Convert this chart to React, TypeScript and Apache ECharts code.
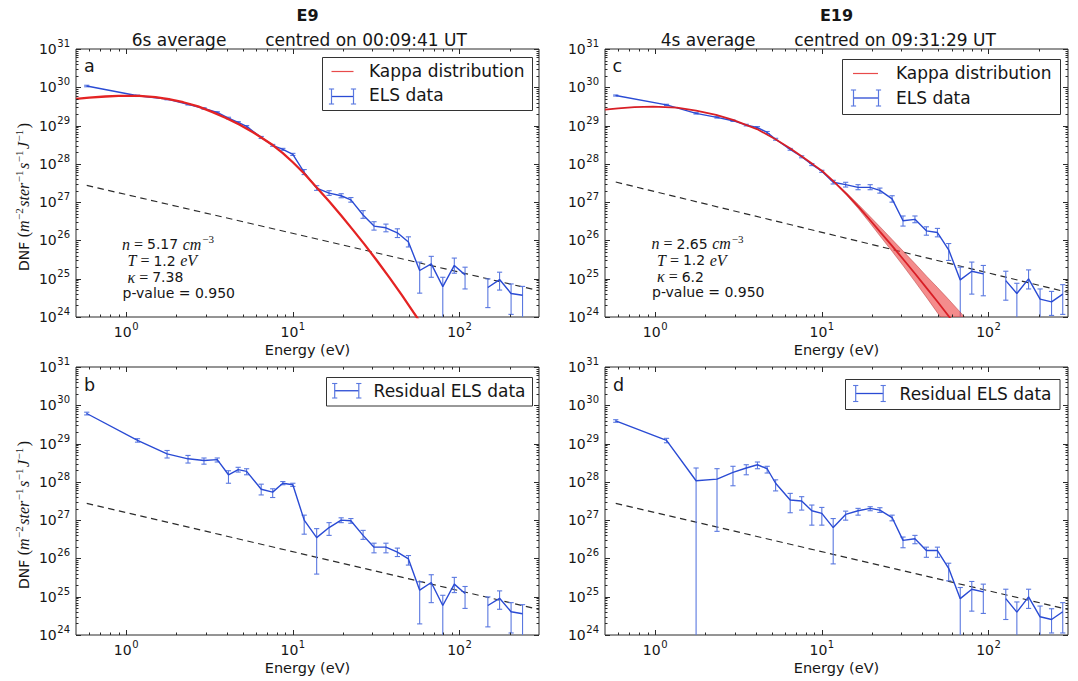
import React, { useEffect, useRef } from 'react';
import * as echarts from 'echarts';

// ---------------- data ----------------
// ELS energy bins (eV)
const ENERGY = [0.58, 1.17, 1.76, 2.35, 2.93, 3.52, 4.11, 4.70, 5.28, 6.46, 7.57, 8.71, 10.0, 11.7, 13.9, 16.5, 19.5, 22.3, 26.4, 30.7, 36.2, 42.4, 49.4, 57.7, 67.7, 79.4, 93.1, 108, 127, 148, 174, 204, 239, 279];

// panel a : ELS data (E9)
const ELS_A = [1.08e30, 6.0e29, 4.9e29, 3.6e29, 2.8e29, 2.2e29, 1.57e29, 1.21e29, 9.5e28, 4.9e28, 3.05e28, 2.4e28, 1.77e28, 6.0e27, 2.33e27, 1.72e27, 1.47e27, 1.15e27, 4.6e26, 2.37e26, 2.14e26, 1.58e26, 9.1e25, 1.64e25, 2.45e25, 6.2e24, 2.22e25, 1.26e25, null, 5.9e24, 9.5e24, 4.1e24, 3.7e24, null];
const ELS_A_LO = [1.03e30, 5.75e29, 4.7e29, 3.45e29, 2.67e29, 2.1e29, 1.49e29, 1.15e29, 9.0e28, 4.6e28, 2.88e28, 2.26e28, 1.66e28, 5.25e27, 2.03e27, 1.5e27, 1.3e27, 1.0e27, 3.78e26, 1.86e26, 1.68e26, 1.19e26, 6.75e25, 4.2e24, 1.09e25, 0, 1.39e25, 5.4e24, null, 1.76e24, 5.05e24, 1.17e24, 0, null];
const ELS_A_HI = [1.13e30, 6.25e29, 5.1e29, 3.75e29, 2.93e29, 2.3e29, 1.65e29, 1.27e29, 1.0e29, 5.2e28, 3.22e28, 2.54e28, 1.88e28, 7.1e27, 2.69e27, 1.99e27, 1.66e27, 1.32e27, 6.0e26, 3.08e26, 2.67e26, 2.01e26, 1.24e26, 2.72e25, 3.84e25, 1.09e25, 3.46e25, 2.0e25, null, 9.9e24, 1.48e25, 7.3e24, 6.3e24, null];

// panel b : residual ELS data (E9)
const RES_B = [6.1e29, 1.21e29, 5.4e28, 4.0e28, 3.6e28, 3.8e28, 1.53e28, 2.08e28, 1.88e28, 6.4e27, 5.4e27, 9.2e27, 8.4e27, 1.0e27, 3.5e26, 6.4e26, 1.0e27, 9.6e26, 4.0e26, 1.97e26, 1.97e26, 1.46e26, 9.7e25, 1.48e25, 2.35e25, 5.9e24, 2.13e25, 1.21e25, null, 5.9e24, 9.1e24, 4.05e24, 3.6e24, null];
const RES_B_LO = [5.6e29, 1.09e29, 4.2e28, 3.1e28, 2.9e28, 3.3e28, 9.2e27, 1.8e28, 1.53e28, 4.55e27, 3.9e27, 8.4e27, 7.6e27, 4.3e26, 3.9e25, 4.0e26, 8.6e26, 8.3e26, 3.15e26, 1.4e26, 1.4e26, 1.12e26, 6.7e25, 1.95e24, 7.0e24, 0, 1.28e25, 4.95e24, null, 1.63e24, 4.7e24, 1.13e24, 0, null];
const RES_B_HI = [6.6e29, 1.34e29, 6.6e28, 4.9e28, 4.2e28, 4.2e28, 1.95e28, 2.4e28, 2.2e28, 8.7e27, 6.6e27, 1.02e28, 9.2e27, 1.35e27, 6.0e26, 8.6e26, 1.15e27, 1.1e27, 5.4e26, 2.5e26, 2.5e26, 1.86e26, 1.19e26, 2.45e25, 3.75e25, 1.09e25, 3.2e25, 1.85e25, null, 9.9e24, 1.42e25, 7.0e24, 6.2e24, null];

// panel c : ELS data (E19)
const ELS_C = [6.1e29, 3.47e29, 2.09e29, 1.64e29, 1.34e29, 1.03e29, 8.9e28, 6.6e28, 4.4e28, 2.4e28, 1.53e28, 9.6e27, 6.4e27, 3.3e27, 2.86e27, 2.43e27, 2.43e27, 2.03e27, 1.22e27, 3.27e26, 3.55e26, 1.78e26, 1.61e26, 5.7e25, 9.3e24, 1.57e25, 1.34e25, null, 8.9e24, 4.1e24, 9.9e24, 2.92e24, 2.49e24, 3.96e24];
const ELS_C_LO = [5.9e29, 3.35e29, 2.0e29, 1.57e29, 1.28e29, 9.8e28, 8.4e28, 6.2e28, 4.15e28, 2.27e28, 1.44e28, 9.0e27, 6.0e27, 2.98e27, 2.48e27, 2.11e27, 2.11e27, 1.72e27, 1.0e27, 2.37e26, 2.9e26, 1.37e26, 1.24e26, 3.0e25, 0, 3.96e24, 3.58e24, null, 2.75e24, 0, 5.4e24, 0, 1.1e24, 1.17e24];
const ELS_C_HI = [6.3e29, 3.6e29, 2.18e29, 1.71e29, 1.4e29, 1.08e29, 9.4e28, 7.0e28, 4.65e28, 2.53e28, 1.62e28, 1.02e28, 6.8e27, 3.72e27, 3.3e27, 2.86e27, 2.86e27, 2.33e27, 1.47e27, 4.35e26, 4.35e26, 2.27e26, 2.06e26, 8.3e25, 2.0e25, 2.72e25, 2.22e25, null, 1.57e25, 7.6e24, 1.7e25, 5.4e24, 4.66e24, 7.0e24];

// panel d : residual ELS data (E19)
const RES_D = [3.9e29, 1.21e29, 1.07e28, 1.18e28, 1.77e28, 2.3e28, 2.8e28, 2.2e28, 9.2e27, 3.36e27, 3.16e27, 1.76e27, 1.5e27, 6.4e26, 1.41e27, 1.76e27, 2.03e27, 1.83e27, 1.17e27, 2.96e26, 3.27e26, 1.61e26, 1.61e26, 5.5e25, 8.9e24, 1.57e25, 1.34e25, null, 8.9e24, 3.96e24, 9.9e24, 2.99e24, 2.54e24, 4.05e24];
const RES_D_LO = [3.6e29, 1.05e29, 0, 5.1e26, 7.9e27, 1.53e28, 2.2e28, 1.7e28, 5.8e27, 1.56e27, 1.83e27, 7.4e26, 7.4e26, 7.2e25, 1.0e27, 1.35e27, 1.76e27, 1.59e27, 9.6e26, 1.9e26, 2.42e26, 1.07e26, 1.07e26, 2.6e25, 0, 4.2e24, 3.66e24, null, 2.54e24, 0, 4.95e24, 0, 1.13e24, 1.13e24];
const RES_D_HI = [4.2e29, 1.37e29, 2.3e28, 2.21e28, 2.55e28, 2.8e28, 3.3e28, 2.55e28, 1.13e28, 5.0e27, 4.1e27, 2.48e27, 2.15e27, 1.1e27, 1.72e27, 2.03e27, 2.24e27, 2.11e27, 1.35e27, 3.62e26, 4.0e26, 1.97e26, 1.97e26, 7.5e25, 1.74e25, 2.5e25, 2.13e25, null, 1.57e25, 7.3e24, 1.57e25, 5.7e24, 4.85e24, 7.0e24];

// kappa distribution fits
const KAPPA_A_E = [0.5, 0.6, 0.75, 0.9, 1.05, 1.2, 1.5, 1.8, 2.2, 2.7, 3.3, 4.0, 4.8, 5.8, 6.46, 7.57, 8.71, 10, 11.7, 13.9, 16.5, 19.5, 23, 27, 32, 38, 45, 53, 60];
const KAPPA_A = [5.0e29, 5.4e29, 5.75e29, 5.95e29, 6.0e29, 5.95e29, 5.5e29, 4.9e29, 4.07e29, 3.16e29, 2.24e29, 1.55e29, 1.05e29, 6.6e28, 4.9e28, 3.1e28, 1.9e28, 1.1e28, 5.6e27, 2.4e27, 1.05e27, 4.47e26, 1.86e26, 7.76e25, 2.95e25, 1.07e25, 3.8e24, 1.32e24, 6.0e23];
const KAPPA_C_E = [0.5, 0.6, 0.75, 0.97, 1.35, 1.76, 2.32, 2.93, 4.08, 5.27, 6.44, 7.56, 8.76, 10.05, 11.77, 14.09, 16.56, 19.4, 22.3, 26.4, 30.7, 36.2, 42.8, 49.6, 57, 66, 76];
const KAPPA_C = [2.61e29, 2.82e29, 3.02e29, 3.13e29, 2.95e29, 2.45e29, 1.91e29, 1.41e29, 8.1e28, 4.4e28, 2.57e28, 1.58e28, 1.0e28, 6.5e27, 3.47e27, 1.62e27, 7.6e26, 3.47e26, 1.7e26, 7.2e25, 3.27e25, 1.37e25, 5.5e24, 2.46e24, 1.13e24, 4.9e23, 2.16e23];
const KAPPA_C_BAND_E = [11.77, 14.09, 16.56, 19.4, 22.3, 26.4, 30.7, 36.2, 42.8, 49.6, 57, 66, 76];
const KAPPA_C_BAND_HI = [3.55e27, 1.74e27, 8.7e26, 4.27e26, 2.29e26, 1.06e26, 5.3e25, 2.49e25, 1.13e25, 5.8e24, 3.04e24, 1.51e24, 7.7e23];
const KAPPA_C_BAND_LO = [3.39e27, 1.51e27, 6.8e26, 2.88e26, 1.32e26, 5.2e25, 2.21e25, 8.4e24, 3.11e24, 1.26e24, 5.3e23, 2.09e23, 8.4e22];

// power-law (dashed) reference lines
const POWER_E = [0.58, 300];
const POWER_A = [2.75e27, 4.85e24];
const POWER_B = [2.75e27, 4.66e24];
const POWER_C = [3.35e27, 4.4e24];
const POWER_D = [2.75e27, 4.66e24];

// axis ranges and labels
const X_RANGE = [0.5, 300];
const Y_RANGE = [1e24, 1e31];
const X_NAME = 'Energy (eV)';

// ---------------- styling ----------------
const FONT = 'DejaVu Sans';
const SERIF = 'Liberation Serif';
const TXT = '#161616';
const BLUE = '#2a4bd4';
const BLUE_ERR = '#5a78e0';
const RED = '#e42323';
const AX = '#2a2a2a';

const GRIDS = [
  { left: 76, top: 49, width: 463, height: 268 }, // a
  { left: 76, top: 367, width: 463, height: 268 }, // b
  { left: 605, top: 49, width: 463, height: 268 }, // c
  { left: 605, top: 367, width: 463, height: 268 }, // d
];

const powLabel = (v: number) => {
  const e = Math.log10(v);
  const r = Math.round(e);
  return Math.abs(e - r) < 1e-6 ? `{b|10}{s|${r}}` : '';
};

const TICK_RICH = {
  b: { fontFamily: FONT, fontSize: 14, color: TXT },
  s: { fontFamily: FONT, fontSize: 10, color: TXT, padding: [0, 0, 11, 0.5] },
};

const pairs = (xs: number[], ys: (number | null)[]) => xs.map((x, i) => [x, ys[i] == null ? '-' : ys[i]]);

function lineSeries(gi: number, xs: number[], ys: (number | null)[], color: string, width: number, z: number, dashed = false) {
  return {
    type: 'line', xAxisIndex: gi, yAxisIndex: gi, data: pairs(xs, ys), symbol: 'none', silent: true,
    connectNulls: false, z, smooth: false,
    lineStyle: { color, width, type: dashed ? [6.5, 4.5] : 'solid' },
  };
}

function errorSeries(gi: number, lo: (number | null)[], hi: (number | null)[]) {
  const data: number[][] = [];
  ENERGY.forEach((e, i) => { if (hi[i] != null) data.push([e, hi[i] as number, (lo[i] ?? 0) as number]); });
  return {
    type: 'custom', xAxisIndex: gi, yAxisIndex: gi, silent: true, z: 3, clip: true,
    encode: { x: 0, y: 1 },
    data,
    renderItem: (params: any, api: any) => {
      const x = api.value(0), hv = api.value(1), lv = api.value(2);
      const cs = params.coordSys;
      const bottom = cs.y + cs.height;
      const top = api.coord([x, hv]);
      const px = top[0];
      const yLo = lv > 0 ? Math.min(api.coord([x, lv])[1], bottom + 1) : bottom + 1;
      const w = 2.6;
      const st = { stroke: BLUE_ERR, lineWidth: 1.1 };
      const ch: any[] = [
        { type: 'line', shape: { x1: px, y1: top[1], x2: px, y2: yLo }, style: st },
        { type: 'line', shape: { x1: px - w, y1: top[1], x2: px + w, y2: top[1] }, style: st },
      ];
      if (lv > 0 && yLo <= bottom) ch.push({ type: 'line', shape: { x1: px - w, y1: yLo, x2: px + w, y2: yLo }, style: st });
      return { type: 'group', children: ch };
    },
  };
}

function bandSeries(gi: number) {
  return {
    type: 'custom', xAxisIndex: gi, yAxisIndex: gi, silent: true, z: 4, clip: true,
    encode: { x: 0, y: 1 },
    data: [[KAPPA_C_BAND_E[0], KAPPA_C_BAND_HI[0]]],
    renderItem: (params: any, api: any) => {
      const up = KAPPA_C_BAND_E.map((e, i) => api.coord([e, KAPPA_C_BAND_HI[i]]));
      const dn = KAPPA_C_BAND_E.map((e, i) => api.coord([e, KAPPA_C_BAND_LO[i]])).reverse();
      return {
        type: 'polygon', shape: { points: up.concat(dn), smooth: 0 },
        style: { fill: 'rgba(238,70,70,0.62)', stroke: 'rgba(170,40,40,0.55)', lineWidth: 0.8 },
      };
    },
  };
}

function tickSeries(gi: number) {
  const xMaj = [1, 10, 100];
  const xMin: number[] = [];
  for (const d of [0.1, 1, 10, 100]) for (let m = 2; m <= 9; m++) { const v = m * d; if (v > X_RANGE[0] && v < X_RANGE[1]) xMin.push(v); }
  const yMaj: number[] = [];
  const yMin: number[] = [];
  for (let n = 24; n <= 31; n++) { yMaj.push(Math.pow(10, n)); if (n < 31) for (let m = 2; m <= 9; m++) yMin.push(m * Math.pow(10, n)); }
  return {
    type: 'custom', xAxisIndex: gi, yAxisIndex: gi, silent: true, z: 20,
    data: [[1, 1e27]],
    renderItem: (params: any, api: any) => {
      const cs = params.coordSys;
      const L = cs.x, R = cs.x + cs.width, T = cs.y, B = cs.y + cs.height;
      const st = { stroke: AX, lineWidth: 1 };
      const ch: any[] = [];
      const addX = (v: number, len: number) => {
        const px = Math.round(api.coord([v, 1e27])[0]) + 0.5;
        ch.push({ type: 'line', shape: { x1: px, y1: B, x2: px, y2: B - len }, style: st });
        ch.push({ type: 'line', shape: { x1: px, y1: T, x2: px, y2: T + len }, style: st });
      };
      const addY = (v: number, len: number) => {
        const py = Math.round(api.coord([1, v])[1]) + 0.5;
        ch.push({ type: 'line', shape: { x1: L, y1: py, x2: L + len, y2: py }, style: st });
        ch.push({ type: 'line', shape: { x1: R, y1: py, x2: R - len, y2: py }, style: st });
      };
      xMaj.forEach((v) => addX(v, 5));
      xMin.forEach((v) => addX(v, 2.5));
      yMaj.forEach((v) => addY(v, 5));
      yMin.forEach((v) => addY(v, 2.5));
      return { type: 'group', children: ch };
    },
  };
}

// ---------------- graphic helpers ----------------
const gText = (text: string, x: number, y: number, size: number, align = 'left', extra: any = {}) => ({
  type: 'text', x, y, z: 100, silent: true,
  style: { text, fontFamily: FONT, fontSize: size, fill: TXT, align, verticalAlign: 'middle', ...extra },
});
const gLine = (x1: number, y1: number, x2: number, y2: number, stroke: string, lw = 1) => ({
  type: 'line', z: 101, silent: true, shape: { x1, y1, x2, y2 }, style: { stroke, lineWidth: lw },
});
const gRect = (x: number, y: number, w: number, h: number) => ({
  type: 'rect', z: 99, silent: true, shape: { x, y, width: w, height: h }, style: { fill: '#ffffff', stroke: '#333', lineWidth: 1 },
});
const errIcon = (x1: number, x2: number, yT: number, yB: number) => {
  const ym = (yT + yB) / 2;
  const c = 2.6;
  return [
    gLine(x1, ym, x2, ym, BLUE, 1.3),
    gLine(x1, yT, x1, yB, BLUE_ERR, 1.2), gLine(x2, yT, x2, yB, BLUE_ERR, 1.2),
    gLine(x1 - c, yT, x1 + c, yT, BLUE_ERR, 1.1), gLine(x1 - c, yB, x1 + c, yB, BLUE_ERR, 1.1),
    gLine(x2 - c, yT, x2 + c, yT, BLUE_ERR, 1.1), gLine(x2 - c, yB, x2 + c, yB, BLUE_ERR, 1.1),
  ];
};

// y-axis label (DNF with math units)
const Y_LABEL = '{d|DNF }{p|(}{i|m}{s|−2}{i|ster}{s|−1}{i|s}{s|−1}{i|J}{s|−1}{p|)}';
const Y_RICH = {
  d: { fontFamily: FONT, fontSize: 14, fill: TXT },
  p: { fontFamily: SERIF, fontSize: 16, fill: TXT },
  i: { fontFamily: SERIF, fontStyle: 'italic', fontSize: 16, fill: TXT },
  s: { fontFamily: SERIF, fontSize: 11, fill: TXT, padding: [0, 1.5, 10, 0.5] },
};
const yLabel = (x: number, y: number) => ({
  type: 'text', x, y, rotation: Math.PI / 2, z: 100, silent: true,
  style: { text: Y_LABEL, rich: Y_RICH, align: 'center', verticalAlign: 'middle', fill: TXT },
});

const ANN_RICH = {
  i: { fontFamily: SERIF, fontStyle: 'italic', fontSize: 16, fill: TXT },
  r: { fontFamily: SERIF, fontSize: 16, fill: TXT },
  t: { fontFamily: FONT, fontSize: 14, fill: TXT },
  s: { fontFamily: SERIF, fontSize: 11, fill: TXT, padding: [0, 0, 10, 1] },
};
const annot = (x: number, y: number, n: string, k: string) => [
  gText(`{i|n}{r| = }{t|${n} }{i|cm}{s|−3}`, x, y, 14, 'left', { rich: ANN_RICH }),
  gText('{i|T}{r| = }{t|1.2 }{i|eV}', x + 5.5, y + 16.5, 14, 'left', { rich: ANN_RICH }),
  gText(`{i|κ}{r| = }{t|${k}}`, x + 5.5, y + 33, 14, 'left', { rich: ANN_RICH }),
  gText('p-value = 0.950', x + 0.5, y + 48.5, 14, 'left'),
];

export default function App() {
  const ref = useRef<HTMLDivElement>(null);
  useEffect(() => {
    if (!ref.current) return;
    const chart = echarts.init(ref.current, null, { renderer: 'svg' });
    const xAxis: any[] = [];
    const yAxis: any[] = [];
    GRIDS.forEach((g, i) => {
      xAxis.push({
        type: 'log', logBase: 10, gridIndex: i, min: X_RANGE[0], max: X_RANGE[1],
        axisLine: { show: false }, axisTick: { show: false }, splitLine: { show: false },
        minorTick: { show: false }, minorSplitLine: { show: false },
        axisLabel: { formatter: powLabel, rich: TICK_RICH, margin: 4, color: TXT },
        name: X_NAME, nameLocation: 'middle', nameGap: 25,
        nameTextStyle: { fontFamily: FONT, fontSize: 14.5, color: TXT },
      });
      yAxis.push({
        type: 'log', logBase: 10, gridIndex: i, min: Y_RANGE[0], max: Y_RANGE[1],
        axisLine: { show: false }, axisTick: { show: false }, splitLine: { show: false },
        minorTick: { show: false }, minorSplitLine: { show: false },
        axisLabel: { formatter: powLabel, rich: TICK_RICH, margin: 6, color: TXT },
      });
    });

    const series: any[] = [
      // a
      lineSeries(0, POWER_E, POWER_A, '#2b2b2b', 1.2, 2, true),
      errorSeries(0, ELS_A_LO, ELS_A_HI),
      lineSeries(0, ENERGY, ELS_A, BLUE, 1.4, 3),
      lineSeries(0, KAPPA_A_E, KAPPA_A, RED, 2.3, 5),
      // b
      lineSeries(1, POWER_E, POWER_B, '#2b2b2b', 1.2, 2, true),
      errorSeries(1, RES_B_LO, RES_B_HI),
      lineSeries(1, ENERGY, RES_B, BLUE, 1.4, 3),
      // c
      lineSeries(2, POWER_E, POWER_C, '#2b2b2b', 1.2, 2, true),
      errorSeries(2, ELS_C_LO, ELS_C_HI),
      lineSeries(2, ENERGY, ELS_C, BLUE, 1.4, 3),
      bandSeries(2),
      lineSeries(2, KAPPA_C_E, KAPPA_C, '#d81f26', 1.8, 5),
      // d
      lineSeries(3, POWER_E, POWER_D, '#2b2b2b', 1.2, 2, true),
      errorSeries(3, RES_D_LO, RES_D_HI),
      lineSeries(3, ENERGY, RES_D, BLUE, 1.4, 3),
      // ticks
      tickSeries(0), tickSeries(1), tickSeries(2), tickSeries(3),
    ];

    const elements: any[] = [
      gText('E9', 307.5, 15, 16, 'center', { fontWeight: 'bold' }),
      gText('6s average', 179, 39.5, 17, 'center'),
      gText('centred on 00:09:41 UT', 366, 39.5, 17, 'center'),
      gText('E19', 836.5, 15, 16, 'center', { fontWeight: 'bold' }),
      gText('4s average', 708, 39.5, 17, 'center'),
      gText('centred on 09:31:29 UT', 895, 39.5, 17, 'center'),
      yLabel(23.5, 197),
      yLabel(23.5, 515),
      gText('a', 84, 65.5, 17.5),
      gText('b', 84, 385, 17.5),
      gText('c', 612.5, 66, 17.5),
      gText('d', 613, 385, 17.5),
      ...annot(122, 244.3, '5.17', '7.38'),
      ...annot(651.5, 243.5, '2.65', '6.2'),
      // legend a
      gRect(322.5, 57.5, 210, 53),
      gLine(331.5, 71.5, 353.5, 71.5, '#e84a4a', 1.2),
      gText('Kappa distribution', 369, 71, 17),
      ...errIcon(331.5, 353.5, 89, 104),
      gText('ELS data', 369, 95, 17),
      // legend c
      gRect(842.5, 59.5, 218, 55),
      gLine(853, 73.5, 878, 73.5, '#e84a4a', 1.2),
      gText('Kappa distribution', 896, 73, 17),
      ...errIcon(853.5, 878.5, 90, 106),
      gText('ELS data', 896, 98, 17),
      // legend b
      gRect(326.5, 377.5, 206, 28.5),
      ...errIcon(334.7, 358.8, 383.5, 398),
      gText('Residual ELS data', 373.6, 390.5, 17),
      // legend d
      gRect(845.5, 379.5, 214.5, 30),
      ...errIcon(855.7, 883.2, 385.5, 401.5),
      gText('Residual ELS data', 899.6, 393.5, 17),
    ];

    chart.setOption({
      animation: false,
      backgroundColor: '#ffffff',
      textStyle: { fontFamily: FONT },
      grid: GRIDS.map((g) => ({ ...g, show: true, borderColor: AX, borderWidth: 1, backgroundColor: 'transparent', containLabel: false })),
      xAxis,
      yAxis,
      series,
      graphic: { elements },
    });
    return () => chart.dispose();
  }, []);
  return <div ref={ref} style={{ position: 'fixed', left: 0, top: 0, width: 1078, height: 681, background: '#fff' }} />;
}
